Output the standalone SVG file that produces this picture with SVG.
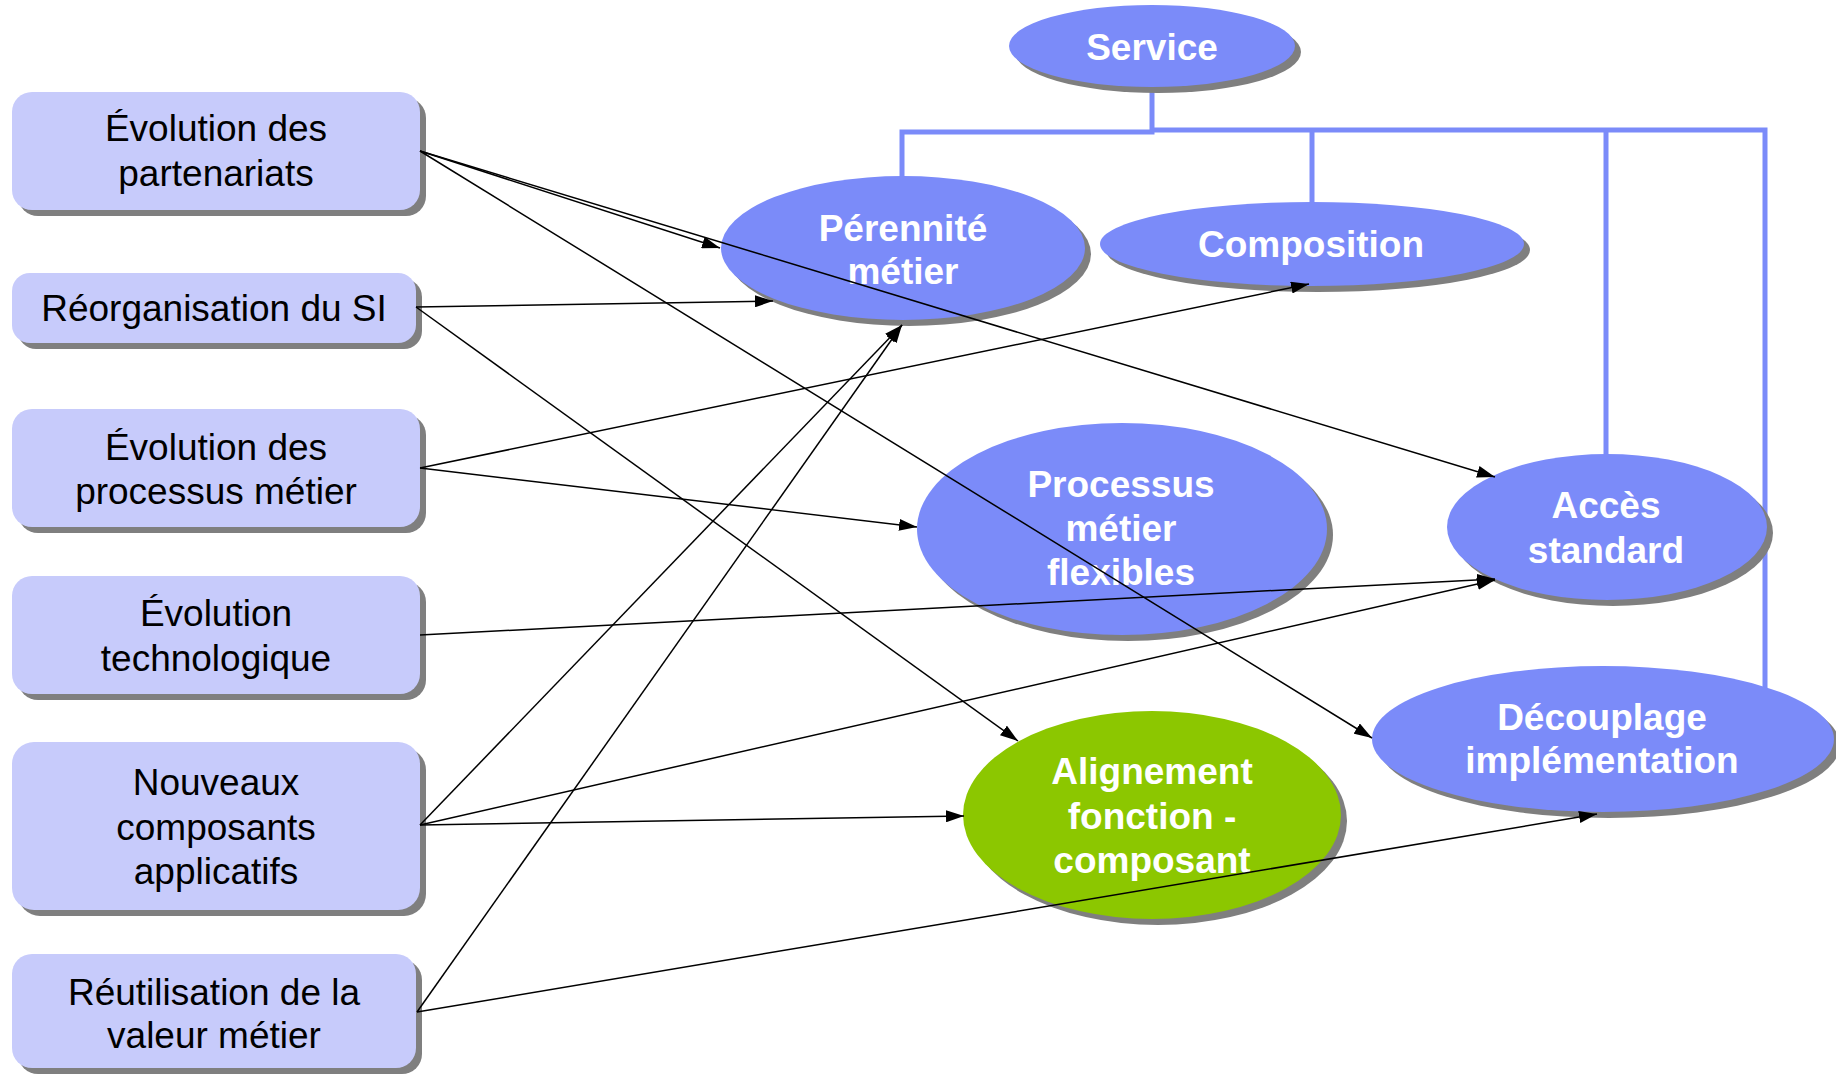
<svg xmlns="http://www.w3.org/2000/svg" width="1836" height="1075" viewBox="0 0 1836 1075">
<style>
.box{fill:#c7cbfb}
.shd{fill:#7f7f7f}
.ell{fill:#7b8bf9}
.grn{fill:#8cc700}
.bt{font-family:"Liberation Sans",Arial,sans-serif;font-size:37px;fill:#000;text-anchor:middle}
.et{font-family:"Liberation Sans",Arial,sans-serif;font-size:37px;font-weight:bold;fill:#fff;text-anchor:middle}
.tree{fill:none;stroke:#7b8bf9;stroke-width:5}
.arr{stroke:#000;stroke-width:1.5;fill:none;marker-end:url(#ah)}
</style>
<defs>
<marker id="ah" markerUnits="userSpaceOnUse" markerWidth="18" markerHeight="12" refX="18" refY="6" orient="auto">
<path d="M0,0 L18,6 L0,12 z" fill="#000"/>
</marker>
</defs>
<rect width="1836" height="1075" fill="#fff"/>
<g id="tree-links">
<path class="tree" d="M1152,86 V132 H902 V178"/>
<path class="tree" d="M1152,130 H1765 V688"/>
<path class="tree" d="M1312,130 V204"/>
<path class="tree" d="M1606,130 V456"/>
</g>
<g id="n-partenariats">
<rect class="shd" x="18" y="98" width="408" height="118" rx="20"/>
<rect class="box" x="12" y="92" width="408" height="118" rx="20"/>
<text class="bt" x="216" y="141">Évolution des</text>
<text class="bt" x="216" y="186">partenariats</text>
</g>
<g id="n-reorganisation">
<rect class="shd" x="18" y="279" width="404" height="70" rx="18"/>
<rect class="box" x="12" y="273" width="404" height="70" rx="18"/>
<text class="bt" x="214" y="321">Réorganisation du SI</text>
</g>
<g id="n-processus-evol">
<rect class="shd" x="18" y="415" width="408" height="118" rx="20"/>
<rect class="box" x="12" y="409" width="408" height="118" rx="20"/>
<text class="bt" x="216" y="460">Évolution des</text>
<text class="bt" x="216" y="504">processus métier</text>
</g>
<g id="n-techno">
<rect class="shd" x="18" y="582" width="408" height="118" rx="20"/>
<rect class="box" x="12" y="576" width="408" height="118" rx="20"/>
<text class="bt" x="216" y="626">Évolution</text>
<text class="bt" x="216" y="671">technologique</text>
</g>
<g id="n-nouveaux">
<rect class="shd" x="18" y="748" width="408" height="168" rx="22"/>
<rect class="box" x="12" y="742" width="408" height="168" rx="22"/>
<text class="bt" x="216" y="795">Nouveaux</text>
<text class="bt" x="216" y="840">composants</text>
<text class="bt" x="216" y="884">applicatifs</text>
</g>
<g id="n-reutilisation">
<rect class="shd" x="18" y="960" width="404" height="114" rx="20"/>
<rect class="box" x="12" y="954" width="404" height="114" rx="20"/>
<text class="bt" x="214" y="1005">Réutilisation de la</text>
<text class="bt" x="214" y="1048">valeur métier</text>
</g>
<g id="n-service">
<ellipse class="shd" cx="1158" cy="52" rx="143" ry="41"/>
<ellipse class="ell" cx="1152" cy="46" rx="143" ry="41"/>
<text class="et" x="1152" y="60">Service</text>
</g>
<g id="n-perennite">
<ellipse class="shd" cx="909" cy="254" rx="182" ry="72"/>
<ellipse class="ell" cx="903" cy="248" rx="182" ry="72"/>
<text class="et" x="903" y="241">Pérennité</text>
<text class="et" x="903" y="284">métier</text>
</g>
<g id="n-composition">
<ellipse class="shd" cx="1318" cy="250" rx="212" ry="42"/>
<ellipse class="ell" cx="1312" cy="244" rx="212" ry="42"/>
<text class="et" x="1311" y="257">Composition</text>
</g>
<g id="n-processus">
<ellipse class="shd" cx="1128" cy="535" rx="205" ry="106"/>
<ellipse class="ell" cx="1122" cy="529" rx="205" ry="106"/>
<text class="et" x="1121" y="497">Processus</text>
<text class="et" x="1121" y="541">métier</text>
<text class="et" x="1121" y="585">flexibles</text>
</g>
<g id="n-acces">
<ellipse class="shd" cx="1613" cy="533" rx="160" ry="73"/>
<ellipse class="ell" cx="1607" cy="527" rx="160" ry="73"/>
<text class="et" x="1606" y="518">Accès</text>
<text class="et" x="1606" y="563">standard</text>
</g>
<g id="n-decouplage">
<ellipse class="shd" cx="1609" cy="745" rx="231" ry="73"/>
<ellipse class="ell" cx="1603" cy="739" rx="231" ry="73"/>
<text class="et" x="1602" y="730">Découplage</text>
<text class="et" x="1602" y="773">implémentation</text>
</g>
<g id="n-alignement">
<ellipse class="shd" cx="1158" cy="821" rx="189" ry="104"/>
<ellipse class="grn" cx="1152" cy="815" rx="189" ry="104"/>
<text class="et" x="1152" y="784">Alignement</text>
<text class="et" x="1152" y="829">fonction -</text>
<text class="et" x="1152" y="873">composant</text>
</g>
<g id="connectors">
<line class="arr" x1="420" y1="151" x2="720" y2="248"/>
<line class="arr" x1="420" y1="151" x2="1495" y2="477"/>
<line class="arr" x1="420" y1="151" x2="1372" y2="738"/>
<line class="arr" x1="416" y1="307" x2="773" y2="301"/>
<line class="arr" x1="416" y1="307" x2="1018" y2="741"/>
<line class="arr" x1="420" y1="468" x2="1309" y2="284"/>
<line class="arr" x1="420" y1="468" x2="917" y2="527"/>
<line class="arr" x1="420" y1="635" x2="1495" y2="579"/>
<line class="arr" x1="420" y1="825" x2="902" y2="325"/>
<line class="arr" x1="420" y1="825" x2="1495" y2="580"/>
<line class="arr" x1="420" y1="825" x2="964" y2="816"/>
<line class="arr" x1="417" y1="1012" x2="902" y2="325"/>
<line class="arr" x1="417" y1="1012" x2="1597" y2="814"/>
</g>
</svg>
